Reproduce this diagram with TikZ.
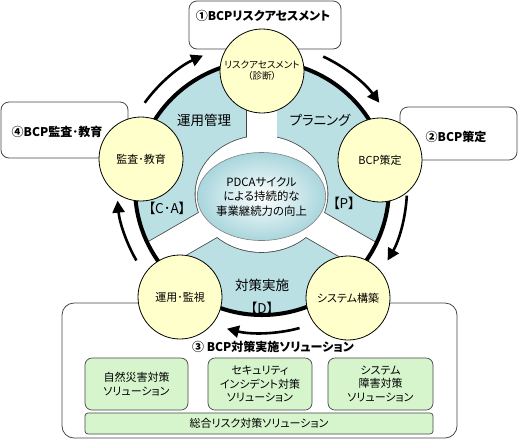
\documentclass[tikz,border=0pt]{standalone}
\usepackage{fontspec}
\setmainfont{Noto Sans CJK JP}[RawFeature=+palt]
\usetikzlibrary{arrows.meta,shapes.geometric}
\definecolor{ringblue}{RGB}{186,224,228}
\definecolor{centerblue}{RGB}{168,214,220}
\definecolor{cyellow}{RGB}{255,255,204}
\definecolor{sgreen}{RGB}{214,245,205}
\definecolor{edgegray}{RGB}{70,70,70}
\begin{document}
\begin{tikzpicture}[x=1pt,y=-1pt,
  callout/.style={draw=edgegray,line width=0.8pt,fill=white,rounded corners=8pt,inner sep=0pt},
  calltext/.style={font=\bfseries\fontsize{12}{14}\selectfont,inner sep=0pt},
  phase/.style={circle,draw=black,line width=0.8pt,fill=cyellow,minimum size=84pt,inner sep=0pt,align=center,font=\fontsize{11}{13}\selectfont},
  sectorlabel/.style={font=\fontsize{13.5}{15}\selectfont,inner sep=0pt},
  solbox/.style={draw=edgegray,line width=0.7pt,fill=sgreen,rounded corners=7pt,align=center,inner sep=0pt,font=\fontsize{11}{13.5}\selectfont},
  cyclearrow/.style={line width=2.6pt,-{Triangle[length=12pt,width=12pt]}},
  gapshape/.style={white}]
\useasboundingbox (0,0) rectangle (518,440);

% callout boxes
\node[callout,minimum width=152pt,minimum height=48pt] (box1) at (265,25) {};
\node[calltext] (t1) at (263,16) {①BCPリスクアセスメント};
\node[callout,minimum width=127pt,minimum height=56pt] (box4) at (64.5,130) {};
\node[calltext] (t4) at (57,132) {④BCP監査･教育};
\node[callout,minimum width=117pt,minimum height=53pt] (box2) at (458.5,133.5) {};
\node[calltext] (t2) at (456,137) {②BCP策定};
\node[callout,rounded corners=12pt,minimum width=395pt,minimum height=135pt] (box3) at (259.5,370.5) {};
\node[calltext] (t3) at (273,347) {③ BCP対策実施ソリューション};

% solution boxes
\node[solbox,minimum width=103pt,minimum height=52pt] (s1) at (136.5,384) {自然災害対策\\ソリューション};
\node[solbox,minimum width=104pt,minimum height=52pt] (s2) at (260,384) {セキュリティ\\インシデント対策\\ソリューション};
\node[solbox,minimum width=105pt,minimum height=52pt] (s3) at (380.5,384) {システム\\障害対策\\ソリューション};
\node[solbox,rounded corners=3pt,minimum width=348pt,minimum height=21pt] (s4) at (259,423.5) {総合リスク対策ソリューション};

% ring
\coordinate (C) at (262,188);
\coordinate (O) at (261.5,194);
\fill[ringblue] (C) circle[radius=127pt];
\begin{scope}
  \clip (C) circle[radius=126pt];
  \draw[edgegray,line width=1.6pt] (O) ellipse[x radius=66pt,y radius=58pt];
  \foreach \a in {90,210,-30}{
    \draw[edgegray,line width=1.6pt,shift={(O)},rotate=\a] (0pt,-15pt) rectangle (200pt,15pt);
  }
  \fill[gapshape] (O) ellipse[x radius=66pt,y radius=58pt];
  \foreach \a in {90,210,-30}{
    \fill[gapshape,shift={(O)},rotate=\a] (0pt,-15pt) rectangle (200pt,15pt);
  }
\end{scope}
\draw[line width=4pt] (C) circle[radius=127pt];

% centre
\node[ellipse,draw=gray,line width=0.6pt,inner color=white,outer color=centerblue,
  minimum width=107pt,minimum height=88pt,inner sep=0pt,align=center,
  font=\fontsize{11.4}{14.5}\selectfont] (pdca) at (261.5,196.5)
  {PDCAサイクル\\による持続的な\\事業継続力の向上};

% sector labels
\node[sectorlabel] (l1) at (204,120) {運用管理};
\node[sectorlabel] (l2) at (320,120) {プラニング};
\node[sectorlabel] (l3) at (262,285) {対策実施};
\node[sectorlabel] (l4) at (167,208) {【C･A】};
\node[sectorlabel] (l5) at (344,203) {【P】};
\node[sectorlabel] (l6) at (262,308) {【D】};

% phase circles
\node[phase,font=\fontsize{9.5}{11}\selectfont] (p1) at (262,71) {リスクアセスメント\\（診断）};
\node[phase] (p2) at (380,160) {BCP策定};
\node[phase] (p3) at (348,298) {システム構築};
\node[phase] (p4) at (180,297) {運用･監視};
\node[phase] (p5) at (141,159) {監査･教育};

% cycle arrows
\draw[cyclearrow] (C) ++(144:145pt) arc[start angle=144,end angle=114,radius=145pt];
\draw[cyclearrow] (C) ++(65:145pt) arc[start angle=65,end angle=36,radius=145pt];
\draw[cyclearrow] (C) ++(-3:145pt) arc[start angle=-3,end angle=-30,radius=145pt];
\draw[cyclearrow] (C) ++(-75:145pt) arc[start angle=-75,end angle=-104,radius=145pt];
\draw[cyclearrow] (C) ++(210:145pt) arc[start angle=210,end angle=185,radius=145pt];
\end{tikzpicture}
\end{document}
